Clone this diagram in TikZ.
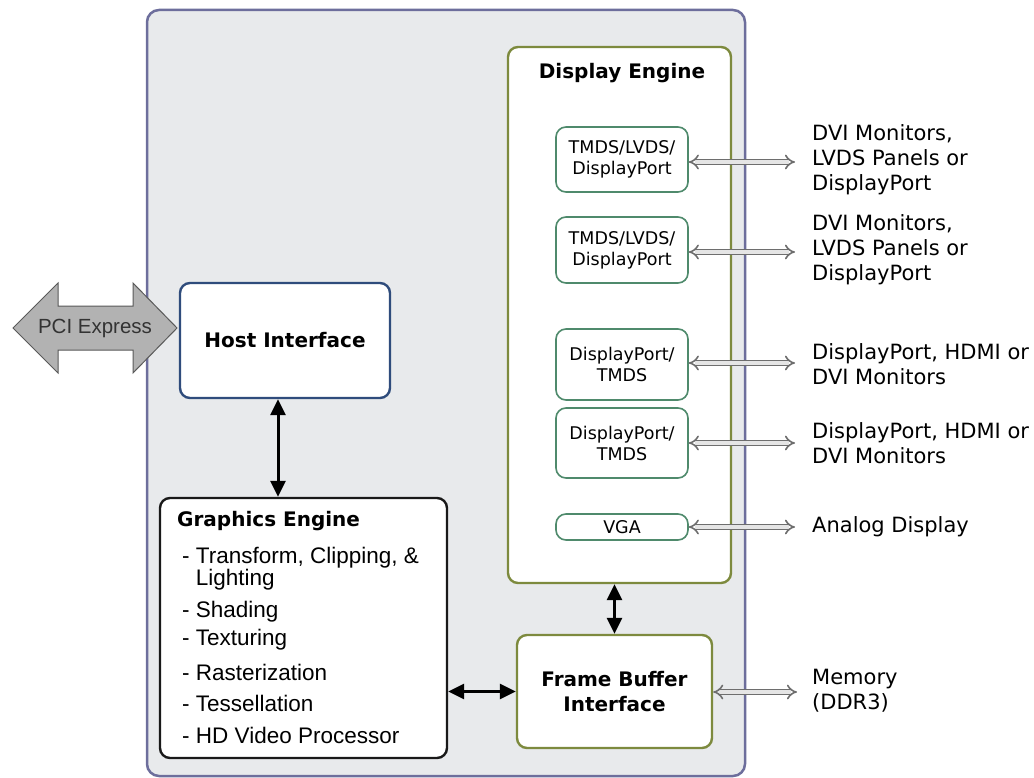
\documentclass[tikz,border=0pt]{standalone}
\usepackage{fontspec}
\setmainfont{DejaVu Sans}
\newfontfamily\pcifont{Liberation Sans}
\usetikzlibrary{arrows.meta}

\definecolor{chipfill}{HTML}{E8EAEC}
\definecolor{chipline}{HTML}{6D6E9C}
\definecolor{hostblue}{HTML}{2F4C7C}
\definecolor{olive}{HTML}{7D8A3E}
\definecolor{portgreen}{HTML}{4F8A6C}
\definecolor{pcigray}{HTML}{B2B2B2}
\definecolor{busgray}{HTML}{6E6E6E}

\tikzset{
  chip/.style={draw=chipline, fill=chipfill, line width=2.5pt, rounded corners=12pt},
  block/.style={draw, fill=white, line width=2.4pt, rounded corners=10pt, align=center, inner sep=0pt},
  port/.style={draw=portgreen, fill=white, line width=1.6pt, rounded corners=10pt, align=center,
    minimum width=132pt, inner sep=0pt, font=\fontsize{17.5}{21}\selectfont},
  title/.style={font=\bfseries\fontsize{20}{25}\selectfont},
  item/.style={anchor=west, inner sep=0pt, font=\pcifont\fontsize{22.5}{25}\selectfont},
  extlabel/.style={anchor=west, align=left, inner sep=0pt, font=\fontsize{21}{25}\selectfont},
  bus/.style={draw=busgray, line width=1.6pt, double=white!90!black, double distance=3.4pt, {Implies}-{Implies}},
  link/.style={line width=3pt, {Triangle[length=16pt,width=15pt]}-{Triangle[length=16pt,width=15pt]}},
}

\begin{document}
\begin{tikzpicture}[x=1pt,y=-1pt]
\useasboundingbox (0,0) rectangle (1034,778);

\node[chip, minimum width=598pt, minimum height=766pt] (chipbox) at (446,393) {}; % chip outline

% PCI Express bus
\draw[fill=pcigray, draw=black!65, line width=1pt] (13,328) -- (58,283) -- (58,306) -- (133,306) -- (133,283)
  -- (177,328) -- (133,373) -- (133,350) -- (58,350) -- (58,373) -- cycle;
\node[font=\pcifont\fontsize{20.5}{24}\selectfont, text=black!80] (pci) at (95,328) {PCI Express};

\node[block, draw=hostblue, minimum width=210pt, minimum height=115pt, title] (host) at (285,340.5) {Host Interface};

% graphics engine
\node[block, draw=black!90, minimum width=287pt, minimum height=260pt] (gfx) at (303.5,628) {};
\node[title, anchor=west, inner sep=0pt] (gfxtitle) at (177,521) {Graphics Engine};
\foreach \y/\t [count=\i] in {558/{- Transform, Clipping, \&}, 612/- Shading, 640/- Texturing,
  672/- Rasterization, 703/- Tessellation, 735/- HD Video Processor}
  \node[item] (gfx\i) at (182,\y) {\t};
\node[item] (gfxwrap) at (182,580) {\phantom{- }Lighting};

% display engine
\node[block, draw=olive, minimum width=223pt, minimum height=536pt] (disp) at (619.5,315) {};
\node[title] (disptitle) at (622,73) {Display Engine};
\node[port, minimum height=65pt] (p1) at (622,159.5) {TMDS/LVDS/\\DisplayPort};
\node[port, minimum height=66pt] (p2) at (622,250) {TMDS/LVDS/\\DisplayPort};
\node[port, minimum height=71pt] (p3) at (622,364.5) {DisplayPort/\\TMDS};
\node[port, minimum height=70pt] (p4) at (622,443) {DisplayPort/\\TMDS};
\node[port, minimum height=26pt] (vga) at (622,527) {VGA};

\node[block, draw=olive, minimum width=195pt, minimum height=113pt, title] (fb) at (614.5,691.5) {Frame Buffer\\Interface};

% internal links
\draw[link] ([xshift=-7pt]host.south) -- ([xshift=-7pt]host.south |- gfx.north);
\draw[link] (fb.north) -- (fb.north |- disp.south);
\draw[link] (fb.west) -- (fb.west -| gfx.east);

% outputs
\coordinate (o1) at (795,162);
\coordinate (o2) at (795,252);
\coordinate (o3) at (795,363);
\coordinate (o4) at (795,443);
\coordinate (o5) at (795,527);
\coordinate (o6) at (797,692);
\foreach \p/\o in {p1/o1, p2/o2, p3/o3, p4/o4, vga/o5}
  \draw[bus] (\p.east |- \o) -- (\o);
\draw[bus] (fb.east |- o6) -- (o6);

\node[extlabel] (l1) at (812,160) {DVI Monitors,\\LVDS Panels or\\DisplayPort};
\node[extlabel] (l2) at (812,250) {DVI Monitors,\\LVDS Panels or\\DisplayPort};
\node[extlabel] (l3) at (812,364) {DisplayPort, HDMI or\\DVI Monitors};
\node[extlabel] (l4) at (812,443) {DisplayPort, HDMI or\\DVI Monitors};
\node[extlabel] (l5) at (812,527) {Analog Display};
\node[extlabel] (l6) at (812,691) {Memory\\(DDR3)};

\end{tikzpicture}
\end{document}
